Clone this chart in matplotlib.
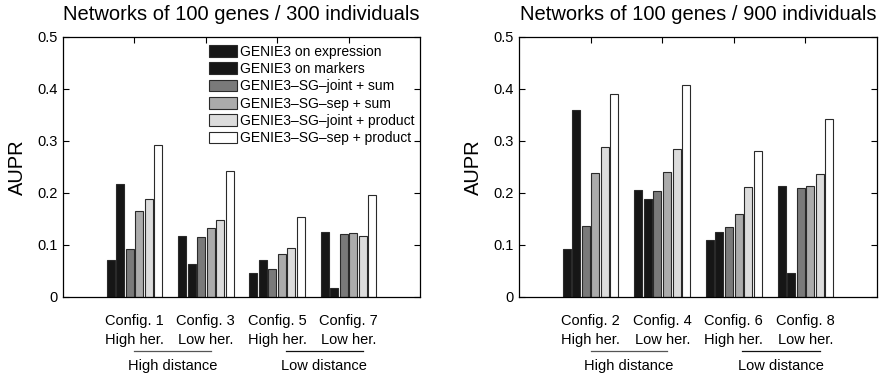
import matplotlib
matplotlib.use("Agg")
import matplotlib.pyplot as plt
import numpy as np

plt.rcParams['font.family'] = ['Liberation Sans', 'DejaVu Sans']

methods = [
    "GENIE3 on expression",
    "GENIE3 on markers",
    "GENIE3\u2013SG\u2013joint + sum",
    "GENIE3\u2013SG\u2013sep + sum",
    "GENIE3\u2013SG\u2013joint + product",
    "GENIE3\u2013SG\u2013sep + product",
]
method_colors = ["#161616", "#161616", "#7a7a7a", "#ababab", "#dcdcdc", "#ffffff"]

titles = ["Networks of 100 genes / 300 individuals",
          "Networks of 100 genes / 900 individuals"]

configs_300 = ["Config. 1\nHigh her.", "Config. 3\nLow her.",
               "Config. 5\nHigh her.", "Config. 7\nLow her."]
configs_900 = ["Config. 2\nHigh her.", "Config. 4\nLow her.",
               "Config. 6\nHigh her.", "Config. 8\nLow her."]
distance_labels = ["High distance", "Low distance"]

# AUPR per configuration (rows) and method (columns)
aupr_300 = np.array([
    [0.071, 0.217, 0.093, 0.166, 0.189, 0.292],
    [0.117, 0.063, 0.116, 0.132, 0.148, 0.242],
    [0.046, 0.071, 0.054, 0.082, 0.094, 0.153],
    [0.125, 0.017, 0.122, 0.124, 0.118, 0.197],
])
aupr_900 = np.array([
    [0.093, 0.360, 0.136, 0.238, 0.289, 0.390],
    [0.206, 0.188, 0.204, 0.240, 0.285, 0.407],
    [0.109, 0.125, 0.134, 0.160, 0.211, 0.281],
    [0.214, 0.046, 0.209, 0.214, 0.236, 0.342],
])

fig = plt.figure(figsize=(8.81, 3.77), dpi=100)
ax_l = fig.add_axes([63 / 881, 1 - 297 / 377, 357 / 881, 260 / 377])
ax_r = fig.add_axes([519 / 881, 1 - 297 / 377, 358 / 881, 260 / 377])

n_methods = len(methods)
slot = 0.8 / n_methods


def draw_panel(ax, data, labels, title, legend=False):
    centers = np.arange(1, data.shape[0] + 1)
    handles = []
    for j in range(n_methods):
        offs = (j - (n_methods - 1) / 2) * slot
        bars = ax.bar(centers + offs, data[:, j], width=slot * 0.84,
                      color=method_colors[j], edgecolor="#2a2a2a",
                      linewidth=0.8, zorder=2, label=methods[j])
        handles.append(bars)
    ax.set_xlim(0, 5)
    ax.set_ylim(0, 0.5)
    ax.set_yticks(np.arange(0, 0.51, 0.1))
    ax.set_yticklabels(["0", "0.1", "0.2", "0.3", "0.4", "0.5"])
    ax.set_xticks(centers)
    ax.set_xticklabels(labels, fontsize=10.5, linespacing=1.45)
    ax.tick_params(axis="x", bottom=False, top=True, direction="in",
                   length=4, pad=12, width=0.8)
    ax.tick_params(axis="y", left=True, right=True, direction="in",
                   length=4, labelsize=10.5, width=0.8, pad=4)
    for sp in ax.spines.values():
        sp.set_linewidth(0.9)
    ax.set_ylabel("AUPR", fontsize=14.5, labelpad=7)
    ax.set_title(title, fontsize=14.5, pad=12)

    # distance brackets under the configuration labels
    tr = ax.get_xaxis_transform()
    spans = [(1.0, 2.07), (3.12, 4.2)]
    line_colors = ["#555555", "#111111"]
    for (x0, x1), txt, lc in zip(spans, distance_labels, line_colors):
        ax.plot([x0, x1], [-0.208, -0.208], color=lc, lw=0.9,
                transform=tr, clip_on=False)
        ax.text((x0 + x1) / 2, -0.266, txt, transform=tr, ha="center",
                va="center", fontsize=10.5)

    if legend:
        ax.legend(handles=handles, loc="upper right", frameon=False,
                  fontsize=10.0, handlelength=2.0, handleheight=0.94,
                  handletextpad=0.2, labelspacing=0.24,
                  borderaxespad=0.0, bbox_to_anchor=(1.0, 0.992))


draw_panel(ax_l, aupr_300, configs_300, titles[0], legend=True)
draw_panel(ax_r, aupr_900, configs_900, titles[1])

fig.savefig("out.png", dpi=100)
